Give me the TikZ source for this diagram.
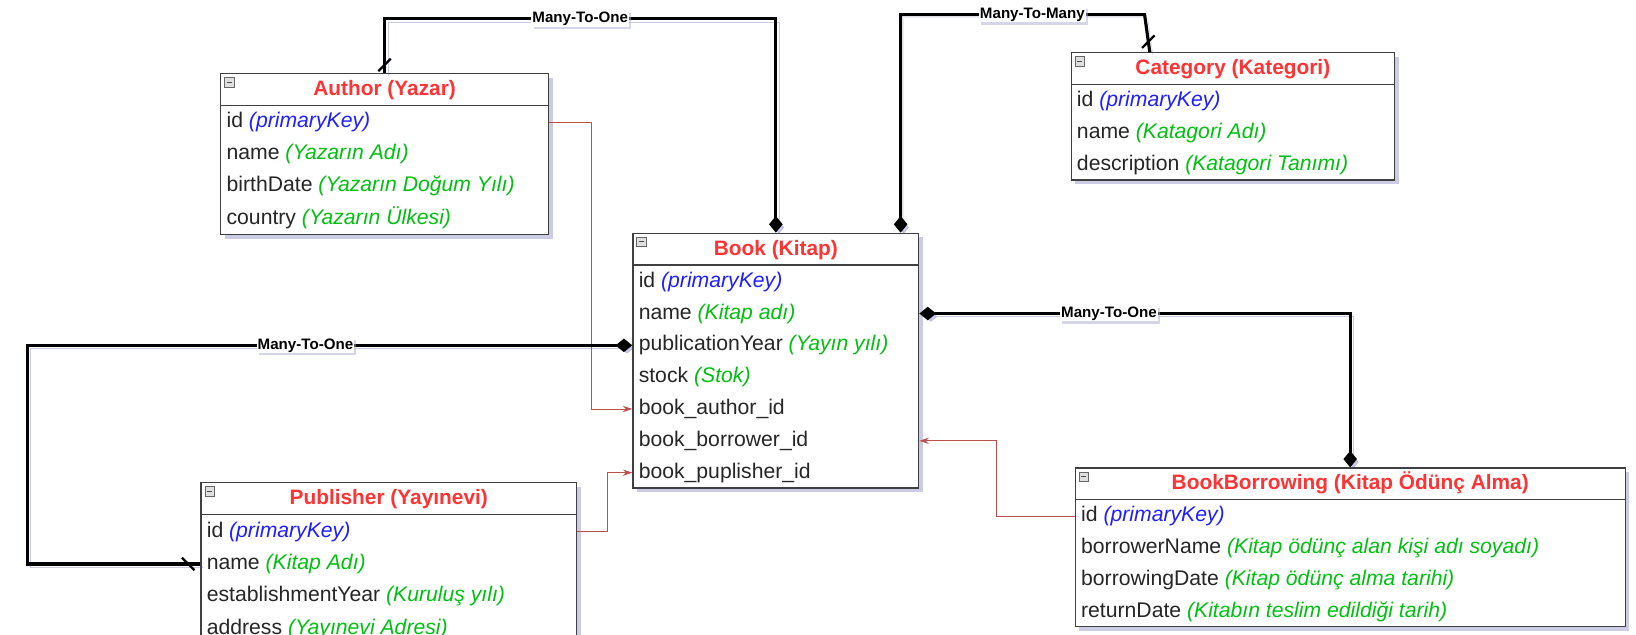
\documentclass[tikz,border=0pt]{standalone}
\usepackage{fontspec}
\setmainfont{Liberation Sans}
\usetikzlibrary{arrows.meta,shadows,positioning}

\definecolor{titlered}{HTML}{FF3333}
\definecolor{keyblue}{HTML}{1F1FFF}
\definecolor{descgreen}{HTML}{00C010}
\definecolor{fkred}{HTML}{C0504D}

\newcommand{\pkey}{\textcolor{keyblue}{\itshape (primaryKey)}}
\newcommand{\fdesc}[1]{\textcolor{descgreen}{\itshape (#1)}}

\begin{document}
\begin{tikzpicture}[x=1pt,y=-1pt,
		entity/.style={draw=black!75,fill=white,line width=1.2pt,anchor=north west,inner sep=0pt,
			drop shadow={shadow xshift=4pt,shadow yshift=-4pt,fill=blue!35!gray!60,opacity=0.5}},
		headline/.style={draw=black!75,line width=1.2pt},
		entitytitle/.style={font=\fontsize{20}{24}\selectfont\bfseries,text=titlered},
		field/.style={anchor=west,inner sep=0pt,text=black!85,font=\fontsize{20.3}{24}\selectfont},
		icon/.style={draw=gray!80!black,fill=gray!25,minimum size=9pt,inner sep=0pt,anchor=north west,
			path picture={\draw[gray!60!black,line width=1pt] ([xshift=2pt]path picture bounding box.west)
				-- ([xshift=-2pt]path picture bounding box.east);}},
		rel/.style={line width=3pt,
			preaction={draw=blue!40!gray,opacity=0.3,transform canvas={shift={(3pt,-3pt)}}}},
		tickline/.style={line width=2.2pt},
		lbl/.style={fill=white,inner sep=1pt,font=\fontsize{14.5}{16}\selectfont\bfseries,
			drop shadow={shadow xshift=2pt,shadow yshift=-2pt,fill=blue!30!gray!50,opacity=0.5}},
		fk/.style={draw=fkred,line width=0.9pt,-{Stealth[length=9pt,width=6pt]}}]
		\useasboundingbox (0,0) rectangle (1568,608);
		\clip (0,0) rectangle (1568,608);

		% Author
		\node[entity,minimum width=314pt,minimum height=154pt] (author) at (211,70) {};
		\draw[headline] ([yshift=-31pt]author.north west) -- ([yshift=-31pt]author.north east);
		\node[icon] (authorIcon) at ([shift={(4,4)}]author.north west) {};
		\node[entitytitle] (authorTitle) at ([yshift=-16pt]author.north) {Author (Yazar)};
		\foreach \fld [count=\i] in {id \pkey, name \fdesc{Yazarın Adı},
				birthDate \fdesc{Yazarın Doğum Yılı}, country \fdesc{Yazarın Ülkesi}}
			\node[field] (author\i) at (217,86.5+30.5*\i) {\fld};

		% Book
		\node[entity,minimum width=274pt,minimum height=244pt] (book) at (606,223) {};
		\draw[headline] ([yshift=-31pt]book.north west) -- ([yshift=-31pt]book.north east);
		\node[icon] (bookIcon) at ([shift={(4,4)}]book.north west) {};
		\node[entitytitle] (bookTitle) at ([yshift=-17pt]book.north) {Book (Kitap)};
		\foreach \fld [count=\i] in {id \pkey, name \fdesc{Kitap adı},
				publicationYear \fdesc{Yayın yılı}, stock \fdesc{Stok},
				book\_author\_id, book\_borrower\_id, book\_puplisher\_id}
			\node[field] (book\i) at (612,239.5+30.5*\i) {\fld};

		% Category
		\node[entity,minimum width=310pt,minimum height=122pt] (category) at (1026,50) {};
		\draw[headline] ([yshift=-31pt]category.north west) -- ([yshift=-31pt]category.north east);
		\node[icon] (categoryIcon) at ([shift={(4,4)}]category.north west) {};
		\node[entitytitle] (categoryTitle) at ([yshift=-16pt]category.north) {Category (Kategori)};
		\foreach \fld [count=\i] in {id \pkey, name \fdesc{Katagori Adı},
				description \fdesc{Katagori Tanımı}}
			\node[field] (category\i) at (1032,66.5+30.5*\i) {\fld};

		% Publisher
		\node[entity,minimum width=360pt,minimum height=190pt] (publisher) at (192,462) {};
		\draw[headline] ([yshift=-31pt]publisher.north west) -- ([yshift=-31pt]publisher.north east);
		\node[icon] (publisherIcon) at ([shift={(4,4)}]publisher.north west) {};
		\node[entitytitle] (publisherTitle) at ([yshift=-16pt]publisher.north) {Publisher (Yayınevi)};
		\foreach \fld [count=\i] in {id \pkey, name \fdesc{Kitap Adı},
				establishmentYear \fdesc{Kuruluş yılı}, address \fdesc{Yayınevi Adresi}}
			\node[field] (publisher\i) at (198,478.5+31*\i) {\fld};

		% BookBorrowing
		\node[entity,minimum width=527pt,minimum height=152pt] (borrow) at (1030,448) {};
		\draw[headline] ([yshift=-31pt]borrow.north west) -- ([yshift=-31pt]borrow.north east);
		\node[icon] (borrowIcon) at ([shift={(4,4)}]borrow.north west) {};
		\node[entitytitle] (borrowTitle) at ([yshift=-15pt]borrow.north) {BookBorrowing (Kitap Ödünç Alma)};
		\foreach \fld [count=\i] in {id \pkey, borrowerName \fdesc{Kitap ödünç alan kişi adı soyadı},
				borrowingDate \fdesc{Kitap ödünç alma tarihi}, returnDate \fdesc{Kitabın teslim edildiği tarih}}
			\node[field] (borrow\i) at (1036,464.5+30.5*\i) {\fld};

		% Foreign keys
		\draw[fk] (author1 -| author.east) -- ++(41,0) |- (book5 -| book.west);
		\draw[fk] (publisher1 -| publisher.east) -- ++(29,0) |- (book7 -| book.west);
		\draw[fk] (borrow1 -| borrow.west) -- ++(-75,0) |- (book6 -| book.east);

		% Relations
		\draw[rel,-{Diamond[length=16pt,width=13pt]}] (author.north)
			-- node[coordinate,pos=0.15] (authorTick) {} ++(0,-52)
			-| node[lbl,pos=0.25] {Many-To-One} (book.north);
		\draw[tickline] ([shift={(-6,6)}]authorTick) -- ([shift={(6,-6)}]authorTick);

		\draw[rel,-{Diamond[length=16pt,width=13pt]}] ([xshift=76pt]category.north west)
			-- node[coordinate,pos=0.28] (categoryTick) {} ++(-5,-36)
			-| node[lbl,pos=0.23] {Many-To-Many} ([xshift=-18pt]book.north east);
		\draw[tickline] ([shift={(-6,6)}]categoryTick) -- ([shift={(6,-6)}]categoryTick);

		\draw[rel,-{Diamond[length=16pt,width=13pt]}] (publisher2 -| publisher.west)
			-- node[coordinate,pos=0.07] (publisherTick) {} ++(-166,0)
			|- node[lbl,pos=0.73] {Many-To-One} (book3 -| book.west);
		\draw[tickline] ([shift={(-6,-6)}]publisherTick) -- ([shift={(6,6)}]publisherTick);

		\draw[rel,{Diamond[length=16pt,width=13pt]}-{Diamond[length=16pt,width=13pt]}] (book2 -| book.east)
			-| node[lbl,pos=0.22] {Many-To-One} (borrow.north);
	\end{tikzpicture}
\end{document}
